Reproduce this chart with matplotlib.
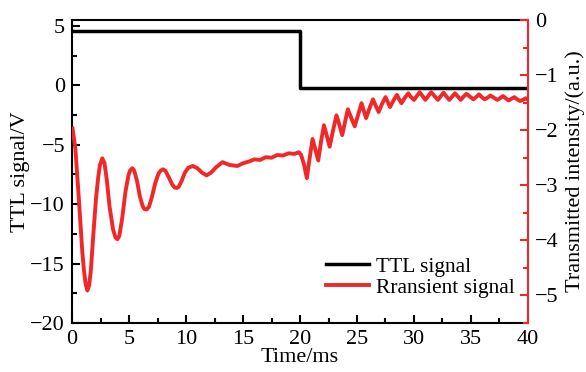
import matplotlib
matplotlib.use("Agg")
import matplotlib.pyplot as plt
from matplotlib.ticker import MultipleLocator

plt.rcParams['font.family'] = ['Liberation Serif', 'DejaVu Serif']

# TTL signal (left axis, V)
ttl_t = [0, 20, 20, 40]
ttl_v = [4.6, 4.6, -0.2, -0.2]

# transient signal (right axis, a.u.)
sig_t = [0.05, 0.3, 0.6, 0.9, 1.05, 1.2, 1.35, 1.5, 1.65, 1.85, 2.1, 2.3, 2.45, 2.66,
         2.85, 3.05, 3.3, 3.6, 3.8, 3.98, 4.15, 4.4, 4.7, 4.95, 5.1, 5.29, 5.45, 5.7,
         5.95, 6.2, 6.35, 6.55, 6.75, 7.0, 7.3, 7.6, 7.8, 8.0, 8.2, 8.5, 8.8, 9.0,
         9.18, 9.35, 9.6, 9.9, 10.2, 10.6, 11.0, 11.4, 11.8, 12.2, 12.6, 13.2, 13.8,
         14.5, 15.0, 15.5, 16.0, 16.5, 17.0, 17.5, 18.0, 18.5, 19.0, 19.5, 19.9,
         20.1, 20.35, 20.6, 20.85, 21.1, 21.35, 21.6, 21.85, 22.1, 22.35, 22.6, 22.9,
         23.2, 23.45, 23.7, 23.95, 24.2, 24.5, 24.8, 25.1, 25.4, 25.6, 25.8, 26.1,
         26.4, 26.65, 26.9, 27.2, 27.5, 27.7, 27.9, 28.2, 28.5, 28.7, 28.9, 29.2,
         29.5, 29.7, 30.0, 30.25, 30.5, 30.75, 31.0, 31.25, 31.5, 31.8, 32.1, 32.35,
         32.6, 32.85, 33.1, 33.35, 33.6, 33.85, 34.1, 34.35, 34.6, 34.9, 35.2, 35.45,
         35.7, 35.95, 36.2, 36.45, 36.7, 37.0, 37.3, 37.55, 37.8, 38.05, 38.3, 38.55,
         38.8, 39.05, 39.3, 39.55, 39.8, 40.0]
sig_v = [-1.97, -2.35, -3.25, -4.2, -4.55, -4.8, -4.91, -4.82, -4.55, -3.95, -3.25,
         -2.85, -2.63, -2.51, -2.6, -2.9, -3.4, -3.8, -3.94, -3.98, -3.92, -3.6, -3.1,
         -2.82, -2.73, -2.69, -2.73, -2.92, -3.2, -3.38, -3.43, -3.44, -3.39, -3.22,
         -2.96, -2.78, -2.73, -2.71, -2.74, -2.86, -2.99, -3.04, -3.05, -3.03, -2.93,
         -2.77, -2.68, -2.65, -2.69, -2.77, -2.82, -2.77, -2.68, -2.58, -2.63, -2.65,
         -2.6, -2.57, -2.53, -2.54, -2.49, -2.5, -2.45, -2.46, -2.42, -2.43, -2.40,
         -2.45, -2.62, -2.87, -2.5, -2.16, -2.35, -2.55, -2.2, -1.91, -2.1, -2.3,
         -2.0, -1.73, -1.9, -2.09, -1.85, -1.62, -1.78, -1.93, -1.72, -1.51, -1.65,
         -1.78, -1.6, -1.44, -1.56, -1.67, -1.52, -1.40, -1.49, -1.58, -1.46, -1.36,
         -1.44, -1.51, -1.41, -1.33, -1.39, -1.45, -1.38, -1.31, -1.38, -1.45, -1.38,
         -1.31, -1.38, -1.45, -1.38, -1.32, -1.39, -1.45, -1.39, -1.33, -1.39, -1.45,
         -1.39, -1.34, -1.39, -1.44, -1.40, -1.35, -1.40, -1.44, -1.41, -1.37, -1.41,
         -1.45, -1.42, -1.38, -1.42, -1.46, -1.43, -1.40, -1.44, -1.47, -1.45, -1.42,
         -1.45]

red = '#f0282a'

fig = plt.figure(figsize=(5.86, 3.72), dpi=100)
ax = fig.add_axes([0.1229, 0.1317, 0.7781, 0.8145])
ax2 = ax.twinx()

l1, = ax.plot(ttl_t, ttl_v, color='black', lw=2.5)
l2, = ax2.plot(sig_t, sig_v, color=red, lw=2.8, solid_joinstyle='round')

ax.set_xlim(0, 40)
ax.set_ylim(-20, 5.5)
ax2.set_ylim(-5.5, 0)

ax.xaxis.set_major_locator(MultipleLocator(5))
ax.xaxis.set_minor_locator(MultipleLocator(2.5))
ax.yaxis.set_major_locator(MultipleLocator(5))
ax.yaxis.set_minor_locator(MultipleLocator(2.5))
ax2.yaxis.set_major_locator(MultipleLocator(1))
ax2.yaxis.set_minor_locator(MultipleLocator(0.5))

ax.tick_params(which='both', direction='in', width=1.5, labelsize=16, top=False, pad=5)
ax.tick_params(which='major', length=6)
ax.tick_params(which='minor', length=3.5)
ax2.tick_params(which='both', direction='in', width=1.5, color=red, labelsize=16, pad=5)
ax2.tick_params(which='major', length=6)
ax2.tick_params(which='minor', length=3.5)

for s in ['left', 'bottom', 'top']:
    ax.spines[s].set_linewidth(1.5)
ax2.spines['right'].set_color(red)
ax2.spines['right'].set_linewidth(1.5)
ax.spines['right'].set_visible(False)
for s in ['left', 'bottom', 'top']:
    ax2.spines[s].set_visible(False)

ax.set_xlabel('Time/ms', fontsize=16, labelpad=-1)
ax.set_ylabel('TTL signal/V', fontsize=16, labelpad=0)
ax2.set_ylabel('Transmitted intensity/(a.u.)', fontsize=16, labelpad=5)

ax.legend([l1, l2], ['TTL signal', 'Rransient signal'], loc='lower right',
          frameon=False, fontsize=15.5, handlelength=2.0, handletextpad=0.35,
          labelspacing=0.05, borderaxespad=0.2, bbox_to_anchor=(1.0, 0.04))

fig.savefig('out.png', dpi=100)
